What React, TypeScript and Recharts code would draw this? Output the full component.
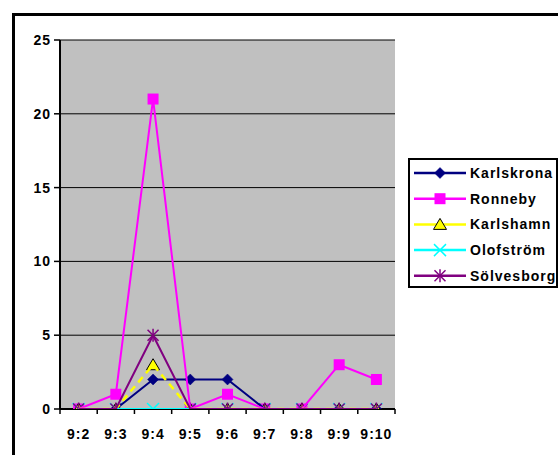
import React from 'react';
import { LineChart, Line, XAxis, YAxis, CartesianGrid, Legend } from 'recharts';

const categories = ['9:2', '9:3', '9:4', '9:5', '9:6', '9:7', '9:8', '9:9', '9:10'];
const karlskrona = [0, 0, 2, 2, 2, 0, 0, 0, 0];
const ronneby = [0, 1, 21, 0, 1, 0, 0, 3, 2];
const karlshamn = [0, 0, 3, 0, 0, 0, 0, 0, 0];
const olofstrom = [0, 0, 0, 0, 0, 0, 0, 0, 0];
const solvesborg = [0, 0, 5, 0, 0, 0, 0, 0, 0];
const yTicks = [0, 5, 10, 15, 20, 25];

const seriesNames = ['Karlskrona', 'Ronneby', 'Karlshamn', 'Olofström', 'Sölvesborg'];
const seriesValues = [karlskrona, ronneby, karlshamn, olofstrom, solvesborg];
const seriesColors = ['#000080', '#FF00FF', '#FFFF00', '#00FFFF', '#800080'];
const seriesMarkers = ['diamond', 'square', 'triangle', 'x', 'star'];

const data = categories.map((c, i) => {
  const row: any = { cat: c };
  seriesNames.forEach((n, s) => (row[n] = seriesValues[s][i]));
  return row;
});

const W = 558;
const H = 455;
const MARGIN = { top: 40, right: 163, bottom: 16, left: 10 };
const Y_W = 50;
const PLOT_W = W - MARGIN.left - MARGIN.right - Y_W;
const HALF = PLOT_W / categories.length / 2;
const FONT = "'Liberation Sans', Arial, sans-serif";

function Marker({ kind, cx, cy, color }: any) {
  if (cx == null || cy == null) return null;
  switch (kind) {
    case 'diamond':
      return <path d={`M${cx},${cy - 5.5}L${cx + 5.5},${cy}L${cx},${cy + 5.5}L${cx - 5.5},${cy}Z`} fill={color} stroke={color} strokeWidth={0.5} />;
    case 'square':
      return <rect x={cx - 5.5} y={cy - 5.5} width={11} height={11} fill={color} />;
    case 'triangle':
      return <path d={`M${cx},${cy - 6}L${cx + 6.5},${cy + 5}L${cx - 6.5},${cy + 5}Z`} fill={color} stroke="#000" strokeWidth={1} />;
    case 'x':
      return (
        <g stroke={color} strokeWidth={1.5}>
          <line x1={cx - 6} y1={cy - 6} x2={cx + 6} y2={cy + 6} />
          <line x1={cx - 6} y1={cy + 6} x2={cx + 6} y2={cy - 6} />
        </g>
      );
    case 'star':
      return (
        <g stroke={color} strokeWidth={1.5}>
          <line x1={cx - 5.5} y1={cy - 5.5} x2={cx + 5.5} y2={cy + 5.5} />
          <line x1={cx - 5.5} y1={cy + 5.5} x2={cx + 5.5} y2={cy - 5.5} />
          <line x1={cx} y1={cy - 6.5} x2={cx} y2={cy + 6.5} />
        </g>
      );
    default:
      return null;
  }
}

const makeDot = (kind: string, color: string) => (props: any) => (
  <g key={`${kind}-${props.index}`}>
    <Marker kind={kind} cx={props.cx} cy={props.cy} color={color} />
  </g>
);

const XTick = (props: any) => {
  const { x, y, payload, index } = props;
  const last = index === categories.length - 1;
  return (
    <g>
      <line x1={x - HALF} y1={y} x2={x - HALF} y2={y + 5} stroke="#000" strokeWidth={1.5} />
      {last && <line x1={x + HALF} y1={y} x2={x + HALF} y2={y + 5} stroke="#000" strokeWidth={1.5} />}
      <text x={x} y={y + 30} textAnchor="middle" fontFamily={FONT} fontWeight="bold" fontSize={14} letterSpacing={1} fill="#000">
        {payload.value}
      </text>
    </g>
  );
};

const renderLegend = () => (
  <div style={{ width: 150, height: 130, border: '2px solid #000', boxSizing: 'border-box', background: '#fff' }}>
    <svg width={146} height={126} style={{ display: 'block' }}>
      {seriesNames.map((n, i) => {
        const cy = 13 + i * 25.7;
        return (
          <g key={n}>
            <line x1={4} y1={cy} x2={56} y2={cy} stroke={seriesColors[i]} strokeWidth={2.5} />
            <Marker kind={seriesMarkers[i]} cx={30} cy={cy} color={seriesColors[i]} />
            <text x={60} y={cy + 5} fontFamily={FONT} fontWeight="bold" fontSize={14} letterSpacing={1} fill="#000">
              {n}
            </text>
          </g>
        );
      })}
    </svg>
  </div>
);

export default function App() {
  return (
    <div style={{ position: 'absolute', left: 0, top: 0, width: W, height: H, overflow: 'hidden', background: '#fff' }}>
      <div style={{ position: 'absolute', left: 12, top: 13, width: 700, height: 600, border: '3px solid #000' }} />
      <div style={{ position: 'absolute', left: 0, top: 0 }}>
        <LineChart width={W} height={H} data={data} margin={MARGIN}>
          <CartesianGrid vertical={false} fill="#C0C0C0" stroke="#000" strokeWidth={1} />
          <XAxis
            dataKey="cat"
            padding={{ left: HALF, right: HALF }}
            axisLine={{ stroke: '#000', strokeWidth: 2 }}
            tickLine={false}
            tickSize={0}
            tickMargin={0}
            height={30}
            interval={0}
            tick={<XTick />}
          />
          <YAxis
            width={Y_W}
            domain={[0, 25]}
            ticks={yTicks}
            allowDataOverflow
            axisLine={{ stroke: '#000', strokeWidth: 2 }}
            tickLine={{ stroke: '#000', strokeWidth: 1.5 }}
            tickSize={6}
            tickMargin={3}
            tick={{ fill: '#000', fontFamily: FONT, fontWeight: 'bold', fontSize: 14, letterSpacing: 1 }}
          />
          <Legend
            layout="vertical"
            align="center"
            verticalAlign="middle"
            content={renderLegend}
            wrapperStyle={{ left: 408, top: 158, width: 150, height: 130 }}
          />
          {seriesNames.map((n, i) => (
            <Line
              key={n}
              dataKey={n}
              name={n}
              stroke={seriesColors[i]}
              strokeWidth={seriesMarkers[i] === 'triangle' ? 2.5 : 2}
              strokeDasharray={seriesMarkers[i] === 'triangle' ? '7 5' : undefined}
              dot={makeDot(seriesMarkers[i], seriesColors[i])}
              activeDot={false}
              isAnimationActive={false}
              {...({ zIndex: 700 + i } as any)}
            />
          ))}
        </LineChart>
      </div>
    </div>
  );
}
